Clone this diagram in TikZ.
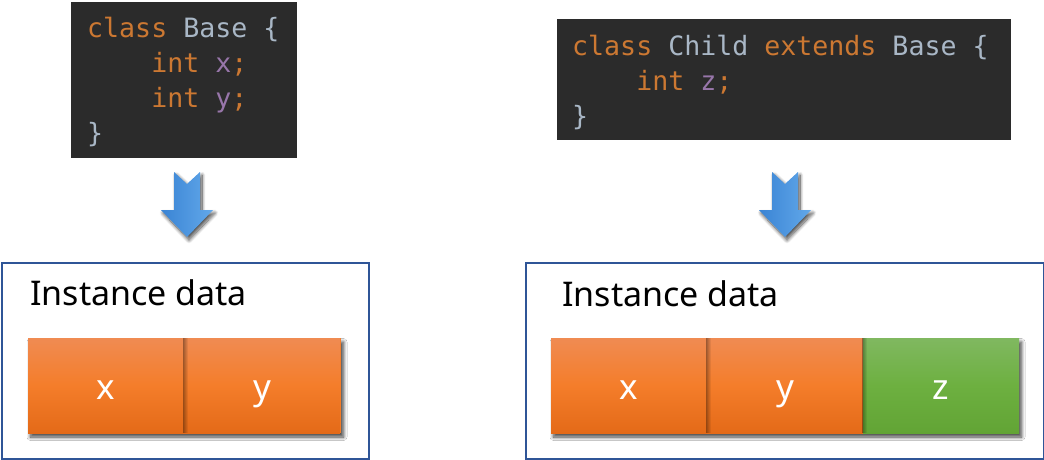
\documentclass[tikz,border=0pt]{standalone}
\usepackage{fontspec}
\setmainfont{Noto Sans}
\newfontfamily\codefont{DejaVu Sans Mono}
\usetikzlibrary{shadows.blur,fadings}
\definecolor{codebg}{HTML}{2B2B2B}
\definecolor{kw}{HTML}{CC7832}
\definecolor{idf}{HTML}{A9B7C6}
\definecolor{fld}{HTML}{9876AA}
\definecolor{frame}{HTML}{2F5597}
\definecolor{orTop}{HTML}{F08B52}
\definecolor{orMid}{HTML}{F47D2A}
\definecolor{orBot}{HTML}{E46A18}
\definecolor{grTop}{HTML}{80B860}
\definecolor{grMid}{HTML}{6DB040}
\definecolor{grBot}{HTML}{62A435}
\definecolor{arL}{HTML}{3A84D4}
\definecolor{arR}{HTML}{62A8EA}
\tikzset{
  codebox/.style={fill=codebg, draw=none, inner sep=0, anchor=north west},
  codeline/.style={anchor=base west, inner sep=0, font=\codefont\fontsize{26.6}{35}\selectfont},
  instbox/.style={draw=frame, line width=1.5pt, fill=white, inner sep=0, anchor=north west},
  insttitle/.style={anchor=base west, inner sep=0, font=\fontsize{34}{40}\selectfont},
  cell/.style={minimum width=156, minimum height=95, inner sep=0, anchor=north west, text=white,
    font=\fontsize{35}{40}\selectfont, text height=27pt, text depth=0pt},
  orcell/.style={cell, top color=orTop, bottom color=orBot, middle color=orMid},
  grcell/.style={cell, top color=grTop, bottom color=grBot, middle color=grMid},
  rowshadow/.style={fill=orMid,
    blur shadow={shadow xshift=2.5pt, shadow yshift=-4pt, shadow blur steps=12, shadow blur radius=3.5pt, shadow opacity=75}},
  seam/.style={fill=black, opacity=0.35, path fading=east, draw=none},
  blockarrow/.style={left color=arL, right color=arR, draw=none,
    blur shadow={shadow xshift=2pt, shadow yshift=-3pt, shadow blur steps=12, shadow blur radius=3.5pt, shadow opacity=70}}
}
\begin{document}
\begin{tikzpicture}[x=1pt,y=-1pt]
\useasboundingbox (0,0) rectangle (1044,459);
% code boxes
\node[codebox, minimum width=226, minimum height=156] (basecode) at (71,2) {};
\node[codeline] (b1) at (87,37) {\textcolor{kw}{class} \textcolor{idf}{Base \{}};
\node[codeline] (b2) at (87,72) {\phantom{int }\textcolor{kw}{int} \textcolor{fld}{x}\textcolor{kw}{;}};
\node[codeline] (b3) at (87,107) {\phantom{int }\textcolor{kw}{int} \textcolor{fld}{y}\textcolor{kw}{;}};
\node[codeline] (b4) at (87,142) {\textcolor{idf}{\}}};

\node[codebox, minimum width=454, minimum height=121] (childcode) at (557,19) {};
\node[codeline] (c1) at (572,55) {\textcolor{kw}{class} \textcolor{idf}{Child} \textcolor{kw}{extends} \textcolor{idf}{Base \{}};
\node[codeline] (c2) at (572,90) {\phantom{int }\textcolor{kw}{int} \textcolor{fld}{z}\textcolor{kw}{;}};
\node[codeline] (c3) at (572,125) {\textcolor{idf}{\}}};

% arrows
\foreach \cx in {187,785}{
  \path[blockarrow] (\cx-13,172) -- (\cx,184) -- (\cx+13,172) -- (\cx+13,210) -- (\cx+26,210)
    -- (\cx,237) -- (\cx-26,210) -- (\cx-13,210) -- cycle;
}

% instance boxes
\node[instbox, minimum width=367, minimum height=196] (baseinst) at (1,262) {};
\node[insttitle] (bt) at (30,305) {Instance data};
\fill[rowshadow] (28,338) rectangle (341,433);
\node[orcell] (bx) at (28,338) {x};
\node[orcell] (by) at (184,338) {y};
\fill[seam] (183,338) rectangle (188,433);

\node[instbox, minimum width=518, minimum height=196] (childinst) at (525,262) {};
\node[insttitle] (ct) at (562,306) {Instance data};
\fill[rowshadow] (551,338) rectangle (1019,433);
\node[orcell] (cx) at (551,338) {x};
\node[orcell] (cy) at (707,338) {y};
\node[grcell] (cz) at (863,338) {z};
\fill[seam] (706,338) rectangle (711,433);
\fill[seam] (862,338) rectangle (867,433);
\end{tikzpicture}
\end{document}
